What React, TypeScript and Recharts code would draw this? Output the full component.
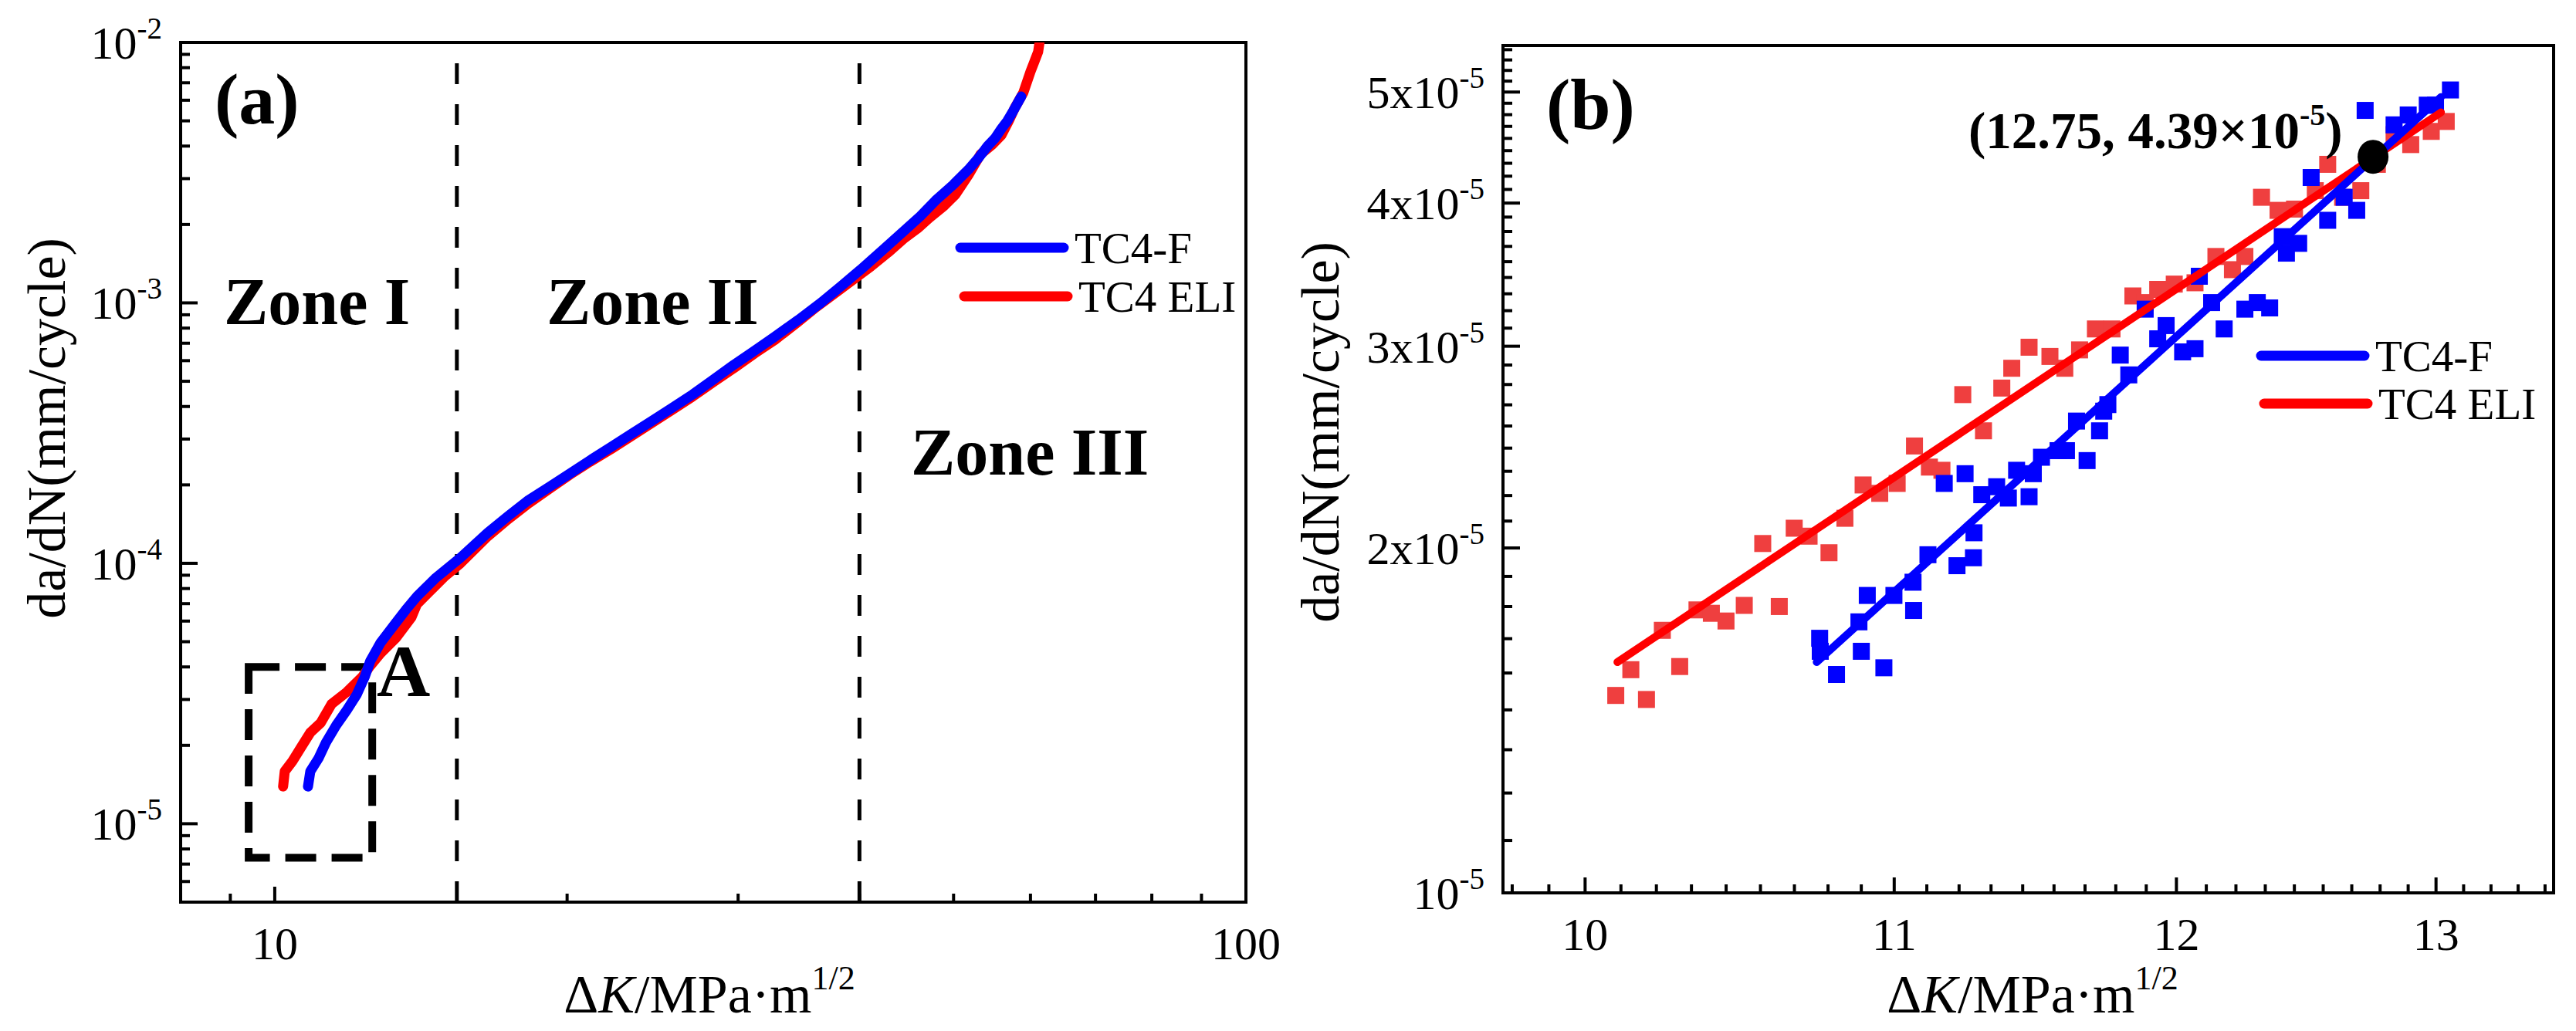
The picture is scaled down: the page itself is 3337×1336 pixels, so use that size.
import React from "react";
import {
  ScatterChart,
  Scatter,
  XAxis,
  YAxis,
  ReferenceLine,
  ReferenceArea,
} from "recharts";

const SERIF = '"Liberation Serif", "Times New Roman", Times, serif';
const BLUE = "#0000ff";
const RED = "#ff0000";
const RED_MARK = "#ef3f3f";

// ---------- (a) full crack growth curves, da/dN vs ΔK ----------
const curveF = [
  { k: 10.82, r: 1.39e-5 }, { k: 10.88, r: 1.59e-5 }, { k: 11.09, r: 1.78e-5 },
  { k: 11.29, r: 2.05e-5 }, { k: 11.57, r: 2.39e-5 }, { k: 11.87, r: 2.74e-5 },
  { k: 12.15, r: 3.14e-5 }, { k: 12.38, r: 3.67e-5 }, { k: 12.54, r: 4.21e-5 },
  { k: 12.85, r: 4.95e-5 }, { k: 13.33, r: 5.92e-5 }, { k: 13.65, r: 6.64e-5 },
  { k: 14.01, r: 7.46e-5 }, { k: 14.62, r: 8.73e-5 }, { k: 15.53, r: 1.05e-4 },
  { k: 16.57, r: 1.31e-4 }, { k: 17.4, r: 1.52e-4 }, { k: 18.26, r: 1.75e-4 },
  { k: 19.2, r: 1.97e-4 }, { k: 20.13, r: 2.21e-4 }, { k: 21.1, r: 2.48e-4 },
  { k: 22.18, r: 2.79e-4 }, { k: 23.3, r: 3.14e-4 }, { k: 24.45, r: 3.52e-4 },
  { k: 25.7, r: 3.97e-4 }, { k: 26.94, r: 4.45e-4 }, { k: 28.3, r: 5.08e-4 },
  { k: 29.69, r: 5.78e-4 }, { k: 31.2, r: 6.55e-4 }, { k: 32.7, r: 7.4e-4 },
  { k: 34.6, r: 8.6e-4 }, { k: 36.5, r: 1.0e-3 }, { k: 38.3, r: 1.16e-3 },
  { k: 40.1, r: 1.34e-3 }, { k: 42.3, r: 1.6e-3 }, { k: 44.4, r: 1.88e-3 },
  { k: 46.2, r: 2.15e-3 }, { k: 47.9, r: 2.47e-3 }, { k: 50.0, r: 2.85e-3 },
  { k: 51.8, r: 3.25e-3 }, { k: 53.1, r: 3.62e-3 }, { k: 54.2, r: 4.0e-3 },
  { k: 55.2, r: 4.3e-3 }, { k: 56.0, r: 4.66e-3 }, { k: 56.8, r: 5.0e-3 },
  { k: 57.5, r: 5.4e-3 }, { k: 58.7, r: 6.2e-3 },
];

const curveELI = [
  { k: 10.2, r: 1.39e-5 }, { k: 10.24, r: 1.59e-5 }, { k: 10.43, r: 1.74e-5 },
  { k: 10.63, r: 1.95e-5 }, { k: 10.88, r: 2.24e-5 }, { k: 11.15, r: 2.44e-5 },
  { k: 11.44, r: 2.88e-5 }, { k: 11.87, r: 3.21e-5 }, { k: 12.31, r: 3.67e-5 },
  { k: 12.54, r: 4.04e-5 }, { k: 12.85, r: 4.51e-5 }, { k: 13.33, r: 5.17e-5 },
  { k: 13.83, r: 6.21e-5 }, { k: 14.01, r: 6.97e-5 }, { k: 14.43, r: 7.78e-5 },
  { k: 14.97, r: 8.92e-5 }, { k: 15.53, r: 1.0e-4 }, { k: 16.57, r: 1.27e-4 },
  { k: 17.4, r: 1.48e-4 }, { k: 18.26, r: 1.7e-4 }, { k: 19.2, r: 1.94e-4 },
  { k: 20.13, r: 2.19e-4 }, { k: 21.1, r: 2.45e-4 }, { k: 22.18, r: 2.74e-4 },
  { k: 23.3, r: 3.08e-4 }, { k: 24.45, r: 3.46e-4 }, { k: 25.7, r: 3.9e-4 },
  { k: 26.94, r: 4.37e-4 }, { k: 28.3, r: 4.97e-4 }, { k: 29.69, r: 5.61e-4 },
  { k: 31.2, r: 6.4e-4 }, { k: 32.72, r: 7.2e-4 }, { k: 34.5, r: 8.4e-4 },
  { k: 36.06, r: 9.6e-4 }, { k: 38.96, r: 1.19e-3 }, { k: 41.1, r: 1.38e-3 },
  { k: 42.8, r: 1.56e-3 }, { k: 44.4, r: 1.76e-3 }, { k: 45.9, r: 1.93e-3 },
  { k: 47.2, r: 2.12e-3 }, { k: 48.9, r: 2.36e-3 }, { k: 50.2, r: 2.6e-3 },
  { k: 51.8, r: 3.1e-3 }, { k: 53.3, r: 3.72e-3 }, { k: 54.8, r: 4.05e-3 },
  { k: 56.0, r: 4.4e-3 }, { k: 57.0, r: 5.0e-3 }, { k: 57.8, r: 5.6e-3 },
  { k: 59.0, r: 6.42e-3 }, { k: 60.0, r: 7.72e-3 }, { k: 60.6, r: 8.5e-3 },
  { k: 61.1, r: 9.2e-3 }, { k: 61.3, r: 1.0e-2 },
];

const zoneBounds = [15.4, 40];
const boxA = { k1: 9.4, k2: 12.6, r1: 7.4e-6, r2: 4.0e-5 };

const aXDomain = [8, 100];
const aYDomain = [5e-6, 1e-2];
const aXMajor = [10, 100];
const aXMinor = [9, 20, 30, 40, 50, 60, 70, 80, 90];
const aYMajor = [1e-5, 1e-4, 1e-3, 1e-2];
const aYMantissa = [2, 3, 4, 5, 6, 7, 8, 9];

// ---------- (b) zoom of region A with power-law fits ----------
const pointsF = [
  { k: 10.75, r: 1.668e-5 }, { k: 10.752, r: 1.625e-5 }, { k: 10.806, r: 1.551e-5 },
  { k: 10.881, r: 1.724e-5 }, { k: 10.889, r: 1.625e-5 }, { k: 10.909, r: 1.818e-5 },
  { k: 10.965, r: 1.572e-5 }, { k: 10.999, r: 1.818e-5 }, { k: 11.064, r: 1.867e-5 },
  { k: 11.066, r: 1.764e-5 }, { k: 11.115, r: 1.973e-5 }, { k: 11.171, r: 2.277e-5 },
  { k: 11.215, r: 1.93e-5 }, { k: 11.243, r: 2.322e-5 }, { k: 11.272, r: 1.961e-5 },
  { k: 11.274, r: 2.062e-5 }, { k: 11.301, r: 2.226e-5 }, { k: 11.353, r: 2.262e-5 },
  { k: 11.394, r: 2.211e-5 }, { k: 11.423, r: 2.338e-5 }, { k: 11.467, r: 2.217e-5 },
  { k: 11.482, r: 2.322e-5 }, { k: 11.511, r: 2.4e-5 }, { k: 11.57, r: 2.432e-5 },
  { k: 11.6, r: 2.432e-5 }, { k: 11.636, r: 2.581e-5 }, { k: 11.674, r: 2.384e-5 },
  { k: 11.719, r: 2.531e-5 }, { k: 11.734, r: 2.633e-5 }, { k: 11.749, r: 2.668e-5 },
  { k: 11.794, r: 2.947e-5 }, { k: 11.825, r: 2.832e-5 }, { k: 11.885, r: 3.232e-5 },
  { k: 11.931, r: 3.045e-5 }, { k: 11.962, r: 3.127e-5 }, { k: 12.023, r: 2.966e-5 },
  { k: 12.069, r: 2.985e-5 }, { k: 12.085, r: 3.453e-5 }, { k: 12.131, r: 3.275e-5 },
  { k: 12.178, r: 3.106e-5 }, { k: 12.256, r: 3.232e-5 }, { k: 12.303, r: 3.275e-5 },
  { k: 12.35, r: 3.24e-5 }, { k: 12.398, r: 3.739e-5 }, { k: 12.414, r: 3.617e-5 },
  { k: 12.461, r: 3.689e-5 }, { k: 12.509, r: 4.211e-5 }, { k: 12.573, r: 3.864e-5 },
  { k: 12.637, r: 4.047e-5 }, { k: 12.686, r: 3.942e-5 }, { k: 12.719, r: 4.819e-5 },
  { k: 12.751, r: 4.411e-5 }, { k: 12.833, r: 4.681e-5 }, { k: 12.889, r: 4.775e-5 },
  { k: 12.965, r: 4.87e-5 }, { k: 12.998, r: 4.87e-5 }, { k: 13.058, r: 5.021e-5 },
];

const pointsELI = [
  { k: 10.095, r: 1.487e-5 }, { k: 10.142, r: 1.566e-5 }, { k: 10.191, r: 1.475e-5 },
  { k: 10.241, r: 1.695e-5 }, { k: 10.296, r: 1.576e-5 }, { k: 10.351, r: 1.766e-5 },
  { k: 10.397, r: 1.754e-5 }, { k: 10.444, r: 1.727e-5 }, { k: 10.503, r: 1.782e-5 },
  { k: 10.563, r: 2.018e-5 }, { k: 10.617, r: 1.778e-5 }, { k: 10.666, r: 2.081e-5 },
  { k: 10.715, r: 2.048e-5 }, { k: 10.781, r: 1.981e-5 }, { k: 10.834, r: 2.123e-5 },
  { k: 10.895, r: 2.27e-5 }, { k: 10.951, r: 2.232e-5 }, { k: 11.01, r: 2.277e-5 },
  { k: 11.069, r: 2.455e-5 }, { k: 11.12, r: 2.353e-5 }, { k: 11.163, r: 2.338e-5 },
  { k: 11.235, r: 2.722e-5 }, { k: 11.307, r: 2.531e-5 }, { k: 11.371, r: 2.758e-5 },
  { k: 11.406, r: 2.87e-5 }, { k: 11.467, r: 2.994e-5 }, { k: 11.541, r: 2.939e-5 },
  { k: 11.594, r: 2.87e-5 }, { k: 11.647, r: 2.978e-5 }, { k: 11.704, r: 3.106e-5 },
  { k: 11.764, r: 3.106e-5 }, { k: 11.84, r: 3.319e-5 }, { k: 11.885, r: 3.275e-5 },
  { k: 11.931, r: 3.363e-5 }, { k: 11.992, r: 3.399e-5 }, { k: 12.069, r: 3.408e-5 },
  { k: 12.147, r: 3.593e-5 }, { k: 12.209, r: 3.499e-5 }, { k: 12.256, r: 3.593e-5 },
  { k: 12.319, r: 4.047e-5 }, { k: 12.382, r: 3.942e-5 }, { k: 12.445, r: 3.952e-5 },
  { k: 12.525, r: 4.101e-5 }, { k: 12.573, r: 4.324e-5 }, { k: 12.631, r: 4.047e-5 },
  { k: 12.702, r: 4.101e-5 }, { k: 12.767, r: 4.324e-5 }, { k: 12.833, r: 4.589e-5 },
  { k: 12.899, r: 4.499e-5 }, { k: 12.981, r: 4.62e-5 }, { k: 13.041, r: 4.713e-5 },
];

const fitF = [{ k: 10.74, r: 1.59e-5 }, { k: 13.02, r: 4.95e-5 }];
const fitELI = [{ k: 10.1, r: 1.59e-5 }, { k: 13.02, r: 4.8e-5 }];
const crossPoint = [{ k: 12.75, r: 4.39e-5 }];

const bXDomain = [9.75, 13.48];
const bYDomain = [1e-5, 5.49e-5];
const bXMajor = [10, 11, 12, 13];
const bYMajor = [1e-5, 2e-5, 3e-5, 4e-5, 5e-5];

// log minor ticks 2..9 x 10^n inside the domain
function logMinors(lo: number, hi: number) {
  const out: number[] = [];
  for (let e = Math.floor(Math.log10(lo)); e <= Math.ceil(Math.log10(hi)); e++)
    for (const m of aYMantissa) {
      const v = m * Math.pow(10, e);
      if (v > lo && v < hi) out.push(v);
    }
  return out;
}

// linear majors split in ninths
function ninths(majors: number[], lo: number, hi: number) {
  const step = majors[1] - majors[0];
  const out: number[] = [];
  for (let i = -1; i < majors.length; i++) {
    const m = majors[0] + i * step;
    for (let j = 1; j < 9; j++) {
      const v = m + (j * step) / 9;
      if (v > lo && v < hi) out.push(v);
    }
  }
  return out;
}

const isMajor = (majors: number[], v: number) =>
  majors.some((m) => Math.abs(v - m) < Math.abs(m) * 1e-6);

const TICK_FONT = 60;
const SUP_FONT = 39;

function bottomTick(majors: number[], fmt: (v: number) => React.ReactNode) {
  return (p: any) => {
    const v = p.payload.value;
    const major = isMajor(majors, v);
    return (
      <g>
        <line x1={p.x} x2={p.x} y1={p.y} y2={p.y - (major ? 20 : 11)} stroke="#000" strokeWidth={4} />
        {major && (
          <text x={p.x} y={p.y + 74} textAnchor="middle" fontFamily={SERIF} fontSize={TICK_FONT} fill="#000">
            {fmt(v)}
          </text>
        )}
      </g>
    );
  };
}

function leftTick(majors: number[], fmt: (v: number) => React.ReactNode) {
  return (p: any) => {
    const v = p.payload.value;
    const major = isMajor(majors, v);
    return (
      <g>
        <line x1={p.x} x2={p.x + (major ? 22 : 12)} y1={p.y} y2={p.y} stroke="#000" strokeWidth={4} />
        {major && (
          <text x={p.x - 24} y={p.y + 21} textAnchor="end" fontFamily={SERIF} fontSize={TICK_FONT} fill="#000">
            {fmt(v)}
          </text>
        )}
      </g>
    );
  };
}

const powLabel = (v: number) => (
  <>
    <tspan>10</tspan>
    <tspan dy={-26} fontSize={SUP_FONT}>{String(Math.round(Math.log10(v)))}</tspan>
  </>
);

// 1e-5 is written as a plain power, the rest as n x 10^-5
const multLabel = (v: number) => {
  const n = Math.round(v / 1e-5);
  return (
    <>
      <tspan>{n === 1 ? "10" : `${n}x10`}</tspan>
      <tspan dy={-26} fontSize={SUP_FONT}>-5</tspan>
    </>
  );
};

const noShape = () => <g />;
const square = (fill: string) => (p: any) => (
  <rect x={p.cx - 11} y={p.cy - 11} width={22} height={22} fill={fill} />
);

function PanelA() {
  const xTicks = [...aXMajor, ...aXMinor];
  const yTicks = [...aYMajor, ...logMinors(aYDomain[0], aYDomain[1])];
  return (
    <ScatterChart width={1660} height={1336} margin={{ top: 55, right: 46, bottom: 0, left: 0 }}>
      <XAxis
        dataKey="k"
        type="number"
        scale="log"
        domain={aXDomain}
        allowDataOverflow
        ticks={xTicks}
        interval={0}
        height={167}
        tickSize={0}
        tickMargin={0}
        tickLine={false}
        axisLine={false}
        tick={bottomTick(aXMajor, (v) => String(v))}
      />
      <YAxis
        dataKey="r"
        type="number"
        scale="log"
        domain={aYDomain}
        allowDataOverflow
        ticks={yTicks}
        interval={0}
        width={234}
        tickSize={0}
        tickMargin={0}
        tickLine={false}
        axisLine={false}
        tick={leftTick(aYMajor, powLabel)}
      />
      {zoneBounds.map((z) => (
        <ReferenceLine key={z} x={z} stroke="#000" strokeWidth={5} strokeDasharray="27 26" ifOverflow="visible" />
      ))}
      <ReferenceArea
        x1={boxA.k1}
        x2={boxA.k2}
        y1={boxA.r1}
        y2={boxA.r2}
        fill="none"
        stroke="#000"
        strokeWidth={10}
        strokeDasharray="40 20"
        ifOverflow="visible"
      />
      <Scatter
        data={curveELI}
        shape={noShape}
        line={{ stroke: RED, strokeWidth: 13, strokeLinejoin: "round", strokeLinecap: "round" }}
        lineType="joint"
        isAnimationActive={false}
      />
      <Scatter
        data={curveF}
        shape={noShape}
        line={{ stroke: BLUE, strokeWidth: 13, strokeLinejoin: "round", strokeLinecap: "round" }}
        lineType="joint"
        isAnimationActive={false}
      />
      <ReferenceArea
        x1={aXDomain[0]}
        x2={aXDomain[1]}
        y1={aYDomain[0]}
        y2={aYDomain[1]}
        fill="none"
        stroke="#000"
        strokeWidth={4}
        ifOverflow="visible"
      />
    </ScatterChart>
  );
}

function PanelB() {
  const xTicks = [...bXMajor, ...ninths(bXMajor, bXDomain[0], bXDomain[1])];
  const yTicks = [...bYMajor, ...ninths(bYMajor, bYDomain[0], bYDomain[1])];
  return (
    <ScatterChart width={1677} height={1336} margin={{ top: 59, right: 29, bottom: 0, left: 0 }}>
      <XAxis
        dataKey="k"
        type="number"
        scale="log"
        domain={bXDomain}
        allowDataOverflow
        ticks={xTicks}
        interval={0}
        height={179}
        tickSize={0}
        tickMargin={0}
        tickLine={false}
        axisLine={false}
        tick={bottomTick(bXMajor, (v) => String(v))}
      />
      <YAxis
        dataKey="r"
        type="number"
        scale="log"
        domain={bYDomain}
        allowDataOverflow
        ticks={yTicks}
        interval={0}
        width={287}
        tickSize={0}
        tickMargin={0}
        tickLine={false}
        axisLine={false}
        tick={leftTick(bYMajor, multLabel)}
      />
      <Scatter data={pointsELI} shape={square(RED_MARK)} isAnimationActive={false} />
      <Scatter data={pointsF} shape={square(BLUE)} isAnimationActive={false} />
      <Scatter
        data={fitELI}
        shape={noShape}
        line={{ stroke: RED, strokeWidth: 10, strokeLinecap: "round" }}
        lineType="joint"
        isAnimationActive={false}
      />
      <Scatter
        data={fitF}
        shape={noShape}
        line={{ stroke: BLUE, strokeWidth: 10, strokeLinecap: "round" }}
        lineType="joint"
        isAnimationActive={false}
      />
      <Scatter
        data={crossPoint}
        shape={(p: any) => <ellipse cx={p.cx} cy={p.cy} rx={20} ry={22} fill="#000" />}
        isAnimationActive={false}
      />
      <ReferenceArea
        x1={bXDomain[0]}
        x2={bXDomain[1]}
        y1={bYDomain[0]}
        y2={bYDomain[1]}
        fill="none"
        stroke="#000"
        strokeWidth={4}
        ifOverflow="visible"
      />
    </ScatterChart>
  );
}

function LegendRow({ x, y, color, label }: { x: number; y: number; color: string; label: string }) {
  return (
    <g>
      <line x1={x} x2={x + 134} y1={y} y2={y} stroke={color} strokeWidth={13} strokeLinecap="round" />
      <text x={x + 148} y={y + 20} fontFamily={SERIF} fontSize={57} fill="#000">
        {label}
      </text>
    </g>
  );
}

function Annotations() {
  const bold = { fontFamily: SERIF, fontWeight: 700, fill: "#000" } as const;
  const plain = { fontFamily: SERIF, fill: "#000" } as const;
  return (
    <svg width={3337} height={1336} style={{ position: "absolute", left: 0, top: 0, pointerEvents: "none" }}>
      {/* panel (a) */}
      <text x={278} y={160} fontSize={94} {...bold}>(a)</text>
      <text x={290} y={420} fontSize={86} {...bold}>Zone I</text>
      <text x={708} y={420} fontSize={86} {...bold}>Zone II</text>
      <text x={1180} y={615} fontSize={86} {...bold}>Zone III</text>
      <text x={488} y={902} fontSize={96} {...bold}>A</text>
      <LegendRow x={1244} y={321} color={BLUE} label="TC4-F" />
      <LegendRow x={1249} y={384} color={RED} label="TC4 ELI" />
      <text x={919} y={1312} textAnchor="middle" fontSize={70} {...plain}>
        Δ<tspan fontStyle="italic">K</tspan>/MPa·m<tspan dy={-30} fontSize={44}>1/2</tspan>
      </text>
      <text transform="translate(84,555) rotate(-90)" textAnchor="middle" fontSize={70} {...plain}>
        da/dN(mm/cycle)
      </text>

      {/* panel (b) */}
      <text x={2003} y={167} fontSize={94} {...bold}>(b)</text>
      <text x={2550} y={192} fontSize={67} {...bold}>
        (12.75, 4.39×10<tspan dy={-30} fontSize={40}>-5</tspan>
        <tspan dy={30}>)</tspan>
      </text>
      <LegendRow x={2929} y={461} color={BLUE} label="TC4-F" />
      <LegendRow x={2933} y={523} color={RED} label="TC4 ELI" />
      <text x={2633} y={1312} textAnchor="middle" fontSize={70} {...plain}>
        Δ<tspan fontStyle="italic">K</tspan>/MPa·m<tspan dy={-30} fontSize={44}>1/2</tspan>
      </text>
      <text transform="translate(1734,560) rotate(-90)" textAnchor="middle" fontSize={70} {...plain}>
        da/dN(mm/cycle)
      </text>
    </svg>
  );
}

export default function App() {
  return (
    <div style={{ position: "absolute", left: 0, top: 0, width: 3337, height: 1336, background: "#fff", overflow: "hidden" }}>
      <div style={{ position: "absolute", left: 0, top: 0 }}>
        <PanelA />
      </div>
      <div style={{ position: "absolute", left: 1660, top: 0 }}>
        <PanelB />
      </div>
      <Annotations />
    </div>
  );
}
